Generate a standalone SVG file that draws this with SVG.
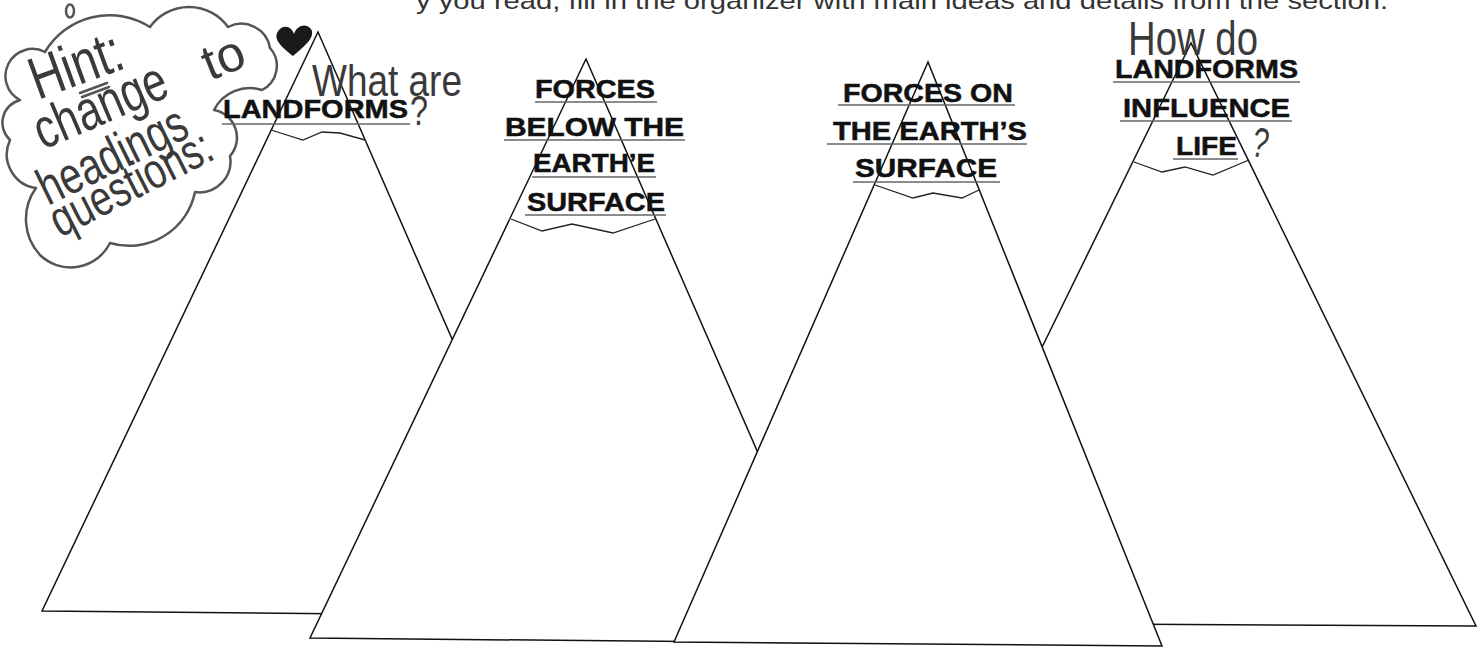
<svg xmlns="http://www.w3.org/2000/svg" width="1484" height="648" viewBox="0 0 1484 648">
<style>
.mt{fill:#fff;stroke:#111;stroke-width:1.5;stroke-linejoin:miter}
.snow{fill:none;stroke:#222;stroke-width:1.3}
.hd{font-family:"Liberation Sans",Arial,sans-serif;font-weight:bold;font-size:26px;fill:#111;stroke:#111;stroke-width:0.5}
.ul{stroke:#666;stroke-width:1.6;fill:none}
.hw{font-family:"Liberation Sans",Arial,sans-serif;font-weight:normal;fill:#3a3a3a}
.cl{fill:none;stroke:#555;stroke-width:2.5;stroke-linejoin:round;stroke-linecap:round}
.top{font-family:"Liberation Sans",Arial,sans-serif;font-size:24px;fill:#333}
</style>
<rect width="1484" height="648" fill="#fff"/>
<text class="top" x="416" y="9" textLength="972" lengthAdjust="spacingAndGlyphs">y you read, fill in the organizer with main ideas and details from the section.</text>

<g id="cloud">
<path class="cl" d="M20,100 A23 23 0 0 1 45,52 A75 75 0 0 1 150,27 A48 48 0 0 1 228,27 A29 29 0 0 1 270,48 A27 27 0 0 1 262,90 A40 40 0 0 0 214,110 A28 28 0 0 1 230,156 A31 31 0 0 1 195,192 A67 67 0 0 1 110,243 A44 44 0 0 1 40,255 A53 53 0 0 1 36,188 A34 34 0 0 1 10,140 A23.5 23.5 0 0 1 20,100 Z"/>
<ellipse class="cl" cx="70" cy="11" rx="4" ry="6.5"/>
<path d="M293,56 C280,46 272,38 279,30 C284,24 292,27 294,34 C297,25 306,23 311,29 C316,37 304,47 293,56 Z" fill="#1a1a1a"/>
<text class="hw" font-size="60" x="38" y="100" textLength="95" lengthAdjust="spacingAndGlyphs" transform="rotate(-20 38 100)">Hint:</text>
<path class="cl" d="M80,93 L107,83 M82,97 L109,87" stroke-width="2"/>
<text class="hw" font-size="56" x="43" y="150" textLength="140" lengthAdjust="spacingAndGlyphs" transform="rotate(-23 43 150)">change</text>
<text class="hw" font-size="50" x="210" y="81" textLength="42" lengthAdjust="spacingAndGlyphs" transform="rotate(-22 210 81)">to</text>
<text class="hw" font-size="52" x="48" y="206" textLength="160" lengthAdjust="spacingAndGlyphs" transform="rotate(-26 48 206)">headings</text>
<text class="hw" font-size="50" x="60" y="238" textLength="176" lengthAdjust="spacingAndGlyphs" transform="rotate(-27 60 238)">questions:</text>
</g>

<g id="mountain1">
<polygon class="mt" points="318,32 42,611 573,616"/>
<polyline class="snow" points="271,130 303,140 322,132 340,133 365,140"/>
<text class="hd" x="223" y="118" font-size="23" textLength="185" lengthAdjust="spacingAndGlyphs">LANDFORMS</text>
<line class="ul" x1="222" y1="124" x2="410" y2="124"/>
<text class="hw" font-size="45" x="312" y="96" textLength="150" lengthAdjust="spacingAndGlyphs">What are</text>
<text class="hw" font-size="42" x="410" y="125" textLength="18" lengthAdjust="spacingAndGlyphs">?</text>
</g>

<g id="mountain2">
<polygon class="mt" points="586,59 310,638 841,643"/>
<polyline class="snow" points="511,219 542,231 572,224 613,233 655,219"/>
<text class="hd" x="535" y="98" textLength="120" lengthAdjust="spacingAndGlyphs">FORCES</text>
<line class="ul" x1="535" y1="102" x2="657" y2="102"/>
<text class="hd" x="505" y="136" textLength="179" lengthAdjust="spacingAndGlyphs">BELOW THE</text>
<line class="ul" x1="504" y1="140" x2="685" y2="140"/>
<text class="hd" x="533" y="172" textLength="122" lengthAdjust="spacingAndGlyphs">EARTH’E</text>
<line class="ul" x1="532" y1="177" x2="656" y2="177"/>
<text class="hd" x="527" y="211" textLength="138" lengthAdjust="spacingAndGlyphs">SURFACE</text>
<line class="ul" x1="525" y1="215" x2="666" y2="215"/>
</g>

<g id="mountain4">
<polygon class="mt" points="1191,43 907,623 1476,626"/>
<polyline class="snow" points="1134,162 1162,172 1185,167 1213,175 1249,160"/>
<text class="hw" font-size="49" x="1128" y="55" textLength="130" lengthAdjust="spacingAndGlyphs">How do</text>
<text class="hd" x="1115" y="78" font-size="23" textLength="183" lengthAdjust="spacingAndGlyphs">LANDFORMS</text>
<line class="ul" x1="1113" y1="82" x2="1300" y2="82"/>
<text class="hd" x="1123" y="117" textLength="167" lengthAdjust="spacingAndGlyphs">INFLUENCE</text>
<line class="ul" x1="1120" y1="121" x2="1292" y2="121"/>
<text class="hd" x="1176" y="155" textLength="61" lengthAdjust="spacingAndGlyphs">LIFE</text>
<line class="ul" x1="1173" y1="159" x2="1238" y2="159"/>
<text class="hw" font-size="42" x="1253" y="157" textLength="16" lengthAdjust="spacingAndGlyphs" transform="rotate(12 1260 140)">?</text>
</g>

<g id="mountain3">
<polygon class="mt" points="928,62 674,642 1162,646"/>
<polyline class="snow" points="875,185 913,198 933,193 962,198 979,190"/>
<text class="hd" x="843" y="102" textLength="170" lengthAdjust="spacingAndGlyphs">FORCES ON</text>
<line class="ul" x1="838" y1="105" x2="1015" y2="105"/>
<text class="hd" x="833" y="140" textLength="194" lengthAdjust="spacingAndGlyphs">THE EARTH’S</text>
<line class="ul" x1="827" y1="144" x2="1027" y2="144"/>
<text class="hd" x="855" y="177" textLength="142" lengthAdjust="spacingAndGlyphs">SURFACE</text>
<line class="ul" x1="853" y1="182" x2="1000" y2="182"/>
</g>

<g id="connectors"></g>
</svg>
